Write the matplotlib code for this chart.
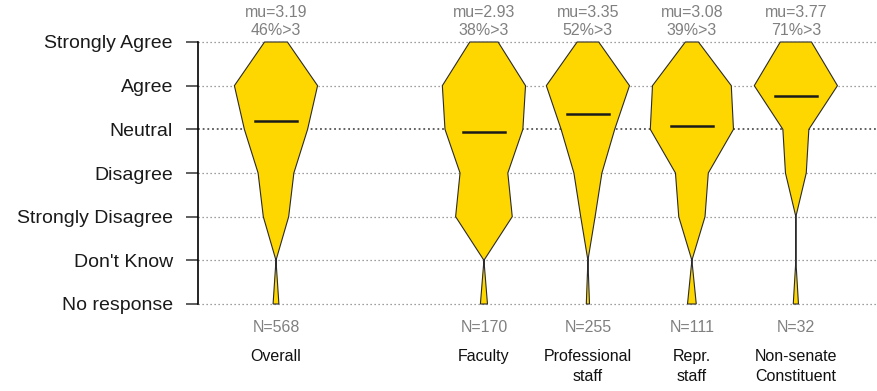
import matplotlib
matplotlib.use("Agg")
import matplotlib.pyplot as plt
import numpy as np

# Response levels, bottom to top, and where each sits on the y axis
levels = ["No response", "Don't Know", "Strongly Disagree", "Disagree",
          "Neutral", "Agree", "Strongly Agree"]
level_y = [-1, 0, 1, 2, 3, 4, 5]

groups = ["Overall", "Faculty", "Professional\nstaff", "Repr.\nstaff",
          "Non-senate\nConstituent"]
group_x = [0, 2, 3, 4, 5]

# Counts per level (same order as `levels`)
counts = {
    "Overall":                  [14, 0, 61, 86, 152, 200, 55],
    "Faculty":                  [4, 0, 32, 27, 44, 47, 16],
    "Professional\nstaff":      [4, 0, 18, 35, 67, 104, 27],
    "Repr.\nstaff":             [4, 0, 12, 15, 38, 36, 6],
    "Non-senate\nConstituent":  [1, 0, 0, 4, 5, 16, 6],
}
n_total = [568, 170, 255, 111, 32]
mu = [3.19, 2.93, 3.35, 3.08, 3.77]
pct_agree = [46, 38, 52, 39, 71]

HALF_W = 0.4
FILL = "#FFD700"
GREY = "#808080"
FONT = ["Liberation Sans", "DejaVu Sans"]

fig = plt.figure(figsize=(8.78, 3.91), dpi=100)
ax = fig.add_axes([198 / 878, 1 - 330.2 / 391, 680 / 878, (330.2 - 15.8) / 391])
ax.set_xlim(-0.75, 5.79)
ax.set_ylim(-1.6, 5.6)

# dotted guides at every level, Neutral a bit heavier
for y in level_y:
    if y == 3:
        ax.axhline(y, color="#555555", ls=(0, (1, 1.6)), lw=1.3, zorder=0)
    else:
        ax.axhline(y, color=GREY, ls=(0, (1, 2.2)), lw=0.9, zorder=0)

for g, x, n, m, p in zip(groups, group_x, n_total, mu, pct_agree):
    c = np.array(counts[g], dtype=float)
    hw = c / c.max() * HALF_W
    ys = np.array(level_y, dtype=float)
    xs = np.concatenate([x - hw, (x + hw)[::-1]])
    yy = np.concatenate([ys, ys[::-1]])
    ax.fill(xs, yy, facecolor=FILL, edgecolor="#2b2b2b", lw=0.8, zorder=2)
    ax.plot([x - 0.2, x + 0.2], [m, m], color="#1a1a1a", lw=1.8, zorder=3)

    ax.text(x, 5.67, f"mu={m:.2f}", ha="center", va="center",
            fontsize=11.5, color=GREY, family=FONT)
    ax.text(x, 5.26, f"{p}%>3", ha="center", va="center",
            fontsize=11.5, color=GREY, family=FONT)
    ax.text(x, -1.53, f"N={n}", ha="center", va="center",
            fontsize=11.5, color=GREY, family=FONT)
    ax.text(x, -2.04, g, ha="center", va="top", fontsize=11.5,
            color="#111111", linespacing=1.4, family=FONT)

ax.set_yticks(level_y)
ax.set_yticklabels(levels, fontsize=14, family=FONT, color="#1a1a1a")
ax.tick_params(axis="y", length=9, width=1.2, color="#444444", pad=9)
ax.set_xticks([])
for s in ("top", "right", "bottom"):
    ax.spines[s].set_visible(False)
ax.spines["left"].set_bounds(-1, 5)
ax.spines["left"].set_linewidth(1.2)

fig.savefig("out.png", dpi=100)
